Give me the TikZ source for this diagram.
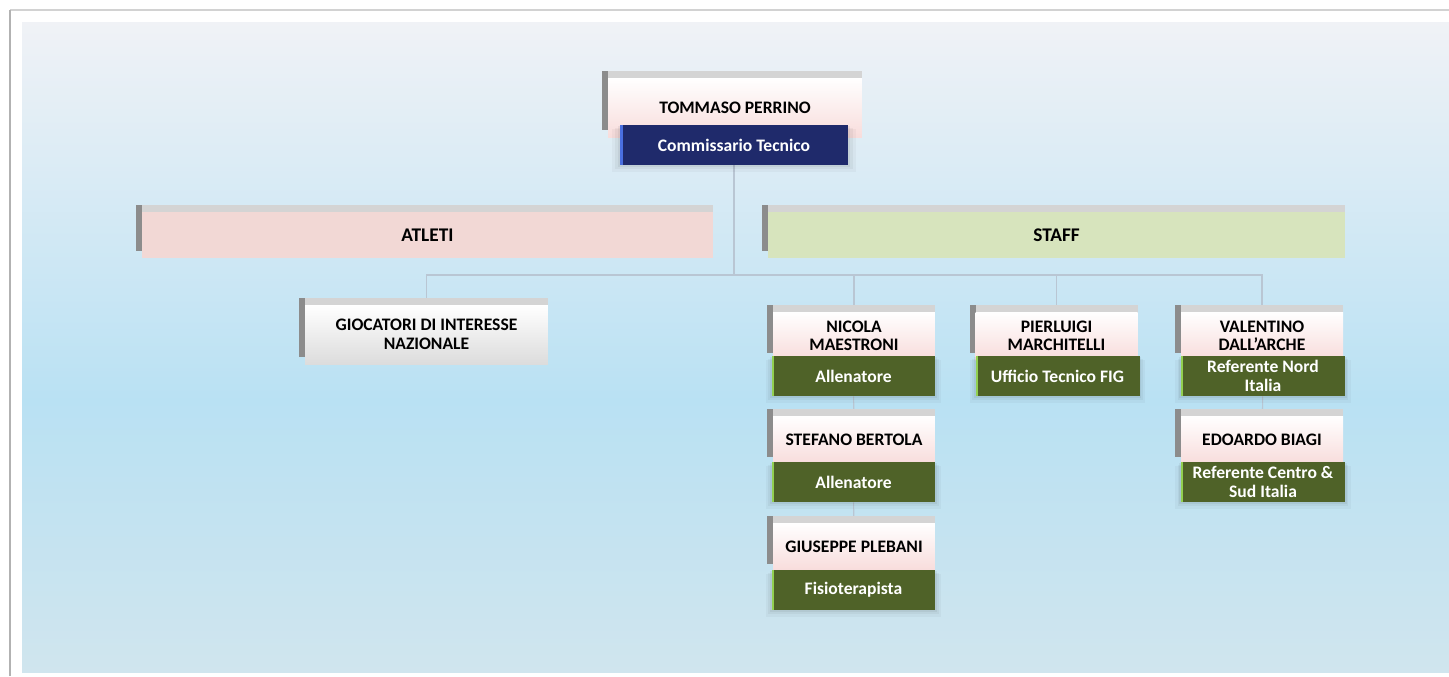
\documentclass[tikz,border=0pt]{standalone}
\usepackage{fontspec}
\setmainfont{Carlito}
\usetikzlibrary{shadows}

\definecolor{blu}{RGB}{31,42,107}
\definecolor{bluchiaro}{RGB}{74,111,224}
\definecolor{verdescuro}{RGB}{79,98,40}
\definecolor{verdechiaro}{RGB}{146,208,80}
\definecolor{rosachiaro}{RGB}{242,216,213}
\definecolor{verdetenue}{RGB}{215,228,189}
\definecolor{rosa}{RGB}{248,220,219}
\definecolor{grigiotenue}{RGB}{220,220,220}
\definecolor{grigiochiaro}{RGB}{212,212,212}
\definecolor{grigiosc}{RGB}{140,140,140}
\definecolor{linea}{RGB}{185,198,211}
\definecolor{cielosu}{RGB}{240,242,246}
\definecolor{cielomezzo}{RGB}{185,225,243}
\definecolor{cielogiu}{RGB}{208,229,238}

\pgfdeclarelayer{sfondo}
\pgfdeclarelayer{linee}
\pgfsetlayers{sfondo,linee,main}

\tikzset{
	rilievo/.style={general shadow={fill=grigiosc, shadow xshift=-0.12cm, shadow yshift=0.15cm},
		general shadow={fill=grigiochiaro, shadow xshift=0cm, shadow yshift=0.15cm}},
	persona/.style={rilievo, top color=white, middle color=white, bottom color=rosa, align=center, inner sep=1pt,
		minimum width=3.24cm, minimum height=0.96cm, font=\bfseries\fontsize{10}{10.5}\selectfont},
	testata/.style={rilievo, minimum height=0.92cm, font=\bfseries\fontsize{11}{12}\selectfont},
	ruolo/.style={fill=verdescuro, text=white, align=center, inner sep=1pt,
		minimum width=3.28cm, minimum height=0.8cm, font=\bfseries\fontsize{10}{10.5}\selectfont,
		general shadow={fill=black, opacity=0.03, shadow yshift=-3pt, shadow scale=1.07},
		general shadow={fill=black, opacity=0.04, shadow yshift=-2pt, shadow scale=1.04},
		general shadow={fill=black, opacity=0.05, shadow yshift=-1pt, shadow scale=1.02},
		path picture={\fill[verdechiaro] (path picture bounding box.south west) rectangle ([xshift=1.2pt]path picture bounding box.north west);}},
	capo/.style={ruolo, fill=blu,
		path picture={\fill[bluchiaro] (path picture bounding box.south west) rectangle ([xshift=1.5pt]path picture bounding box.north west);}},
	filo/.style={draw=linea, line width=0.6pt}
}

\begin{document}
\begin{tikzpicture}[x=0.02cm, y=-0.02cm]
	\useasboundingbox (0,0) rectangle (1449,676);

	% sfondo e cornice
	\begin{pgfonlayer}{sfondo}
		\fill[white] (0,0) rectangle (1449,676);
		\shade[top color=cielosu, bottom color=cielomezzo] (22,22) rectangle (1449,401);
		\shade[top color=cielomezzo, bottom color=cielogiu] (22,400) rectangle (1449,672);
		\draw[gray!35, line width=0.8pt] (10,10) -- (1449,10);
		\draw[gray!60, line width=0.8pt] (10,676) -- (10,10);
	\end{pgfonlayer}

	% vertice
	\node[persona, minimum width=5.08cm, minimum height=1.2cm] (tommaso) at (735,108) {TOMMASO PERRINO};
	\node[capo, minimum width=4.56cm] (comm) at (734,145) {Commissario Tecnico};

	% aree
	\node[testata, fill=rosachiaro, minimum width=11.42cm] (atleti) at (427.5,235) {ATLETI};
	\node[testata, fill=verdetenue, minimum width=11.54cm] (staff) at (1056.5,235) {STAFF};

	\node[rilievo, top color=white, bottom color=grigiotenue, align=center, inner sep=1pt,
		minimum width=4.86cm, minimum height=1.18cm, font=\bfseries\fontsize{10}{10.5}\selectfont]
		(giocatori) at (426.5,334.5) {GIOCATORI DI INTERESSE\\NAZIONALE};

	% staff
	\node[persona] (nicola) at (854,336) {NICOLA\\MAESTRONI};
	\node[ruolo] (nicolaR) at (853.5,376) {Allenatore};
	\node[persona] (stefano) at (854,440) {STEFANO BERTOLA};
	\node[ruolo] (stefanoR) at (853.5,482) {Allenatore};
	\node[persona] (giuseppe) at (854,547) {GIUSEPPE PLEBANI};
	\node[ruolo] (giuseppeR) at (853.5,590) {Fisioterapista};

	\node[persona] (pierluigi) at (1056.5,336) {PIERLUIGI\\MARCHITELLI};
	\node[ruolo] (pierluigiR) at (1057.5,376) {Ufficio Tecnico FIG};

	\node[persona] (valentino) at (1262,336) {VALENTINO\\DALL’ARCHE};
	\node[ruolo] (valentinoR) at (1263,376) {Referente Nord\\Italia};
	\node[persona] (edoardo) at (1262,440) {EDOARDO BIAGI};
	\node[ruolo] (edoardoR) at (1263,482) {Referente Centro \&\\Sud Italia};

	% collegamenti
	\begin{pgfonlayer}{linee}
		\coordinate (bus) at (734,275);
		\draw[filo] (comm) -- (bus);
		\draw[filo] (giocatori) |- (bus) -| (valentino);
		\draw[filo] (bus) -| (nicola);
		\draw[filo] (bus) -| (pierluigi);
		\draw[filo] (nicolaR) -- (stefano);
		\draw[filo] (stefanoR) -- (giuseppe);
		\draw[filo] (valentinoR) -- (edoardo);
	\end{pgfonlayer}
\end{tikzpicture}
\end{document}
